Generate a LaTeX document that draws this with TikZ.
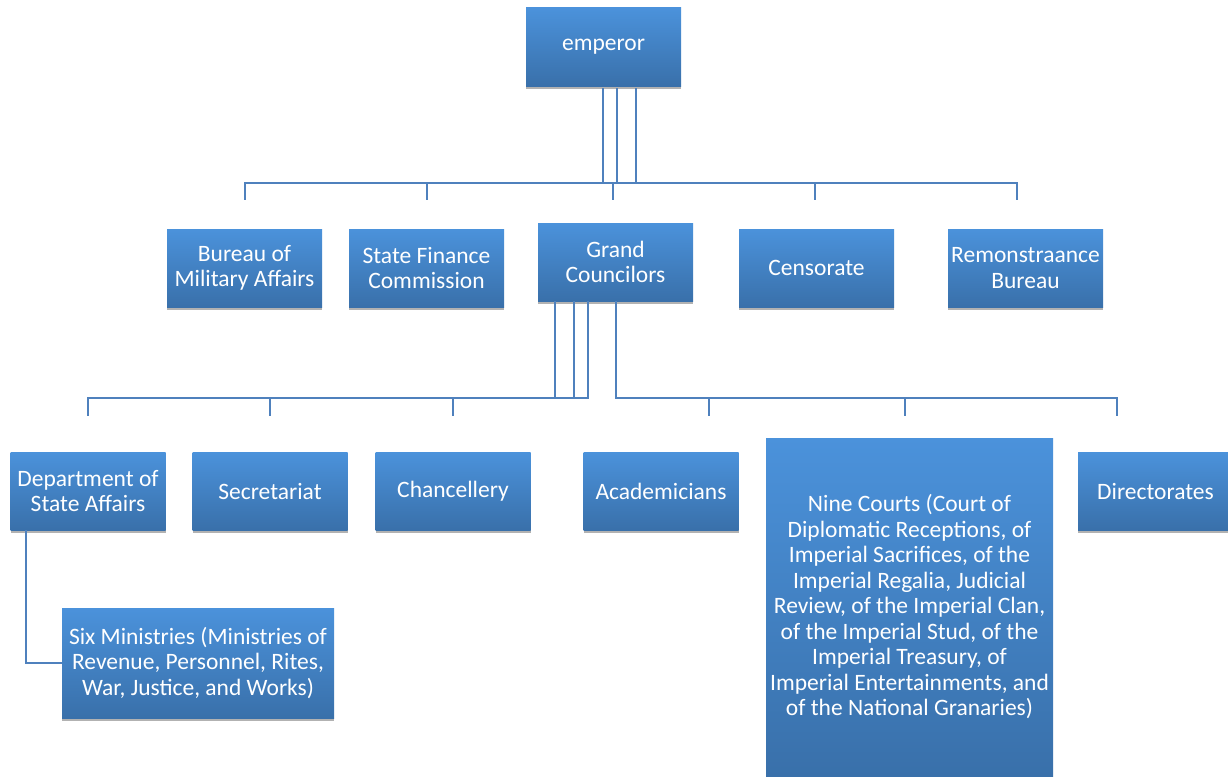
\documentclass[tikz,border=0pt]{standalone}
\usepackage{fontspec}
\setmainfont{Carlito}
\usetikzlibrary{shadows}
\definecolor{boxtop}{RGB}{75,146,219}
\definecolor{boxbot}{RGB}{57,112,170}
\definecolor{linec}{RGB}{79,129,189}
\begin{document}
\begin{tikzpicture}[x=1pt,y=-1pt,
  box/.style={rectangle, draw=none, inner sep=0pt, minimum width=155pt, minimum height=78pt,
    top color=boxtop, bottom color=boxbot, text=white, align=center,
    font=\fontsize{23.5}{25.5}\selectfont,
    drop shadow={shadow xshift=0pt, shadow yshift=-3pt, opacity=0.3, fill=black}},
  conn/.style={draw=linec, line width=2.2pt}]
\useasboundingbox (0,0) rectangle (1228,776);

% nodes
\node[box] (emp) at (603.5,47) {emperor};
\node[box] (bma) at (244.5,268) {Bureau of\\Military Affairs};
\node[box] (sfc) at (426.5,268) {State Finance\\Commission};
\node[box] (gc)  at (615.5,262) {Grand\\Councilors};
\node[box] (cen) at (816.5,268) {Censorate};
\node[box] (rem) at (1025.5,268) {Remonstraance\\Bureau};

\node[box] (dsa) at (88,491) {Department of\\State Affairs};
\node[box] (sec) at (270,491) {Secretariat};
\node[box] (cha) at (453,491) {Chancellery};
\node[box] (aca) at (661,491) {Academicians};
\node[box, minimum width=287pt, minimum height=338pt] (nc) at (909.5,607)
  {Nine Courts (Court of\\Diplomatic Receptions, of\\Imperial Sacrifices, of the\\Imperial Regalia, Judicial\\Review, of the Imperial Clan,\\of the Imperial Stud, of the\\Imperial Treasury, of\\Imperial Entertainments, and\\of the National Granaries)};
\node[box] (dir) at (1155.5,491) {Directorates};
\node[box, minimum width=272pt, minimum height=110pt] (six) at (198,663)
  {Six Ministries (Ministries of\\Revenue, Personnel, Rites,\\War, Justice, and Works)};

% free ends of tick lines
\coordinate (tbma) at (245,200);
\coordinate (tsfc) at (427,200);
\coordinate (tgc)  at (613,200);
\coordinate (tcen) at (815,200);
\coordinate (trem) at (1017,200);
\coordinate (tdsa) at (88,416);
\coordinate (tsec) at (270,416);
\coordinate (tcha) at (453,416);
\coordinate (taca) at (709,416);
\coordinate (tnc)  at (905,416);
\coordinate (tdir) at (1117,416);

% emperor connectors
\draw[conn] ([xshift=-0.5pt,yshift=-2pt]emp.south) |- (245,183) -- (tbma);
\draw[conn] ([xshift=-0.5pt,yshift=-2pt]emp.south) |- (427,183) -- (tsfc);
\draw[conn] ([xshift=-0.5pt,yshift=-2pt]emp.south) |- (815,183) -- (tcen);
\draw[conn] ([xshift=13.5pt,yshift=-2pt]emp.south) |- (613,183) -- (tgc);
\draw[conn] ([xshift=32.5pt,yshift=-2pt]emp.south) |- (1017,183) -- (trem);

% grand councilors connectors
\draw[conn] ([xshift=-60.5pt]gc.south) |- (88,398) -- (tdsa);
\draw[conn] ([xshift=-41.5pt]gc.south) |- (270,398) -- (tsec);
\draw[conn] ([xshift=-27.5pt]gc.south) |- (453,398) -- (tcha);
\draw[conn] ([xshift=0.5pt]gc.south) |- (709,398) -- (taca);
\draw[conn] ([xshift=0.5pt]gc.south) |- (905,398) -- (tnc);
\draw[conn] ([xshift=0.5pt]gc.south) |- (1117,398) -- (tdir);

% department to six ministries
\draw[conn] ([xshift=-62pt]dsa.south) |- (six.west);
\end{tikzpicture}
\end{document}
